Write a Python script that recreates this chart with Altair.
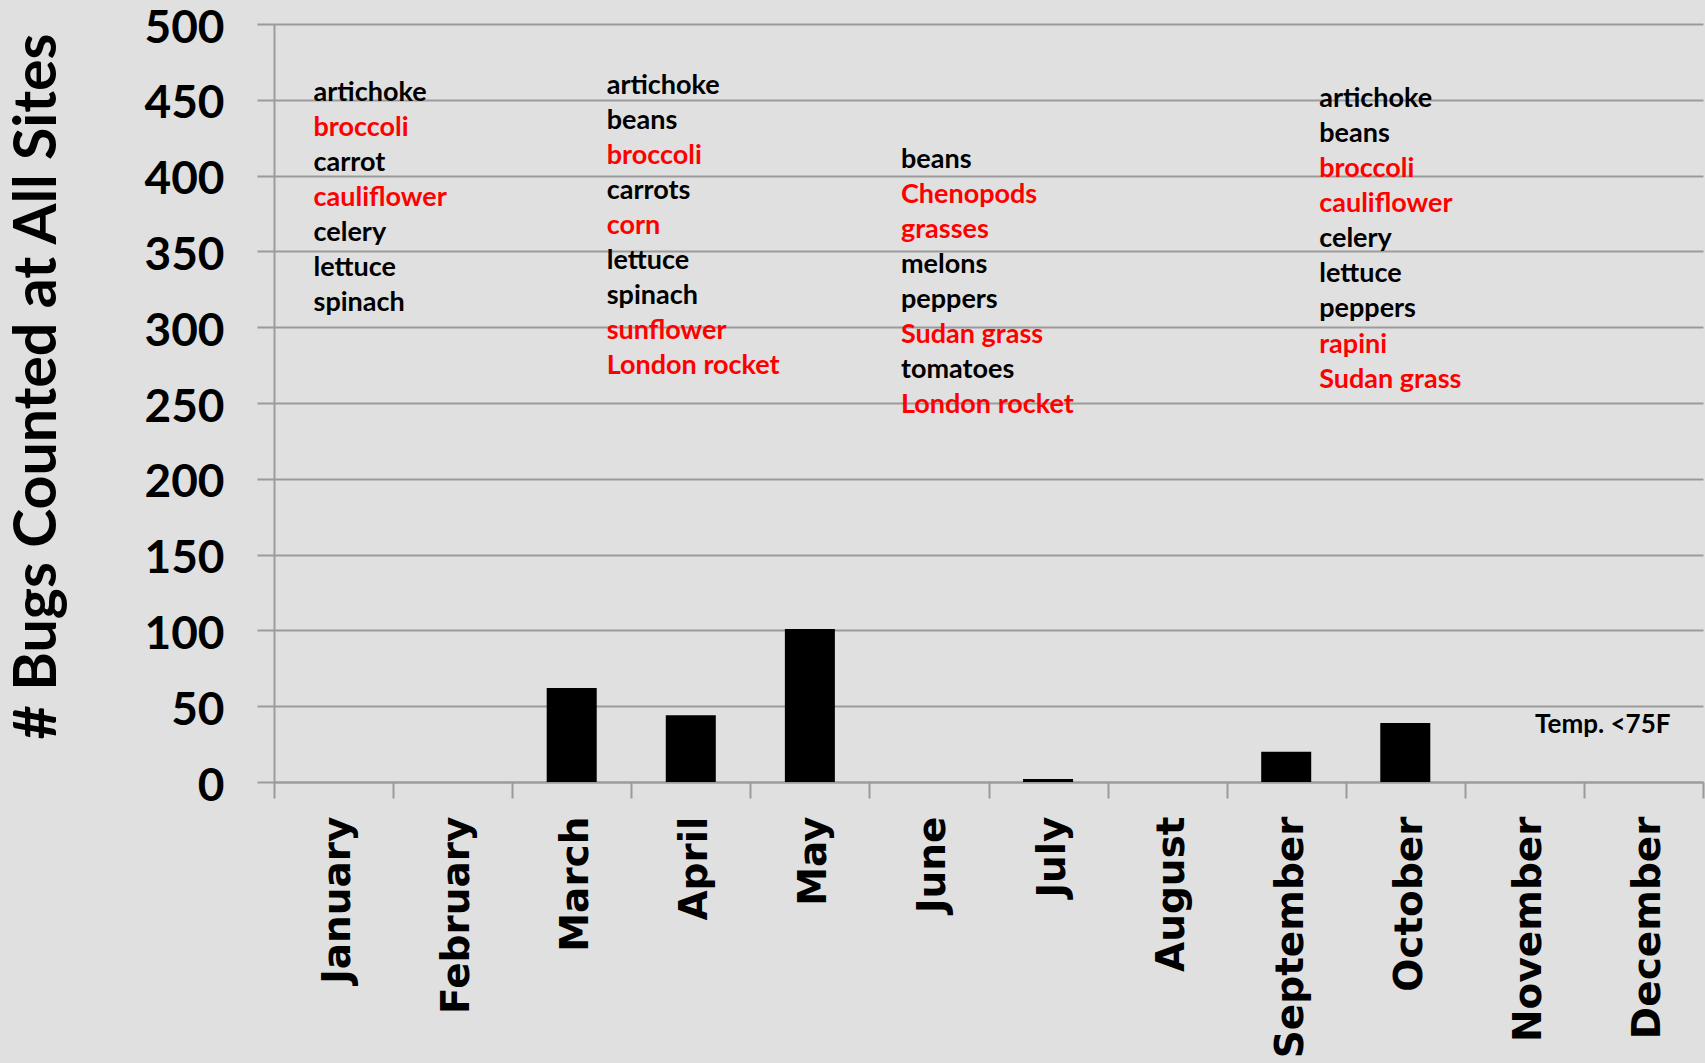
import altair as alt
import pandas as pd

# Monthly bug counts summed over all sites
months = ["January", "February", "March", "April", "May", "June",
          "July", "August", "September", "October", "November", "December"]
bugs = [0, 0, 62, 44, 101, 0, 2, 0, 20, 39, 0, 0]

# Crops / weeds present in each period; host plants shown in red
crops_winter = ["artichoke", "broccoli", "carrot", "cauliflower", "celery", "lettuce", "spinach"]
crops_spring = ["artichoke", "beans", "broccoli", "carrots", "corn", "lettuce", "spinach",
                "sunflower", "London rocket"]
crops_summer = ["beans", "Chenopods", "grasses", "melons", "peppers", "Sudan grass",
                "tomatoes", "London rocket"]
crops_fall = ["artichoke", "beans", "broccoli", "cauliflower", "celery", "lettuce", "peppers",
              "rapini", "Sudan grass"]
host_plants = {"broccoli", "cauliflower", "corn", "sunflower", "London rocket",
               "Chenopods", "grasses", "Sudan grass", "rapini"}
temp_note = "Temp. <75F"

# Layout of the crop lists: (crops, anchor month, x shift in px, first baseline in count units)
LINE_STEP = 23.1
groups = [
    (crops_winter, "January", -20, 449),
    (crops_spring, "March", 35, 453.7),
    (crops_summer, "June", -28, 405),
    (crops_fall, "September", 33, 445),
]

RED = "#ff0000"
GRID = "#9b9b9b"

bars_df = pd.DataFrame({"month": months, "bugs": bugs})

x_scale = alt.Scale(domain=months, paddingInner=0, paddingOuter=0)
y_scale = alt.Scale(domain=[0, 500], nice=False)

base_x = alt.X(
    "month:N", scale=x_scale, sort=months,
    axis=alt.Axis(
        title=None, labelAngle=-90, labelAlign="right", labelBaseline="middle",
        labelFont="DejaVu Sans", labelFontWeight="bold", labelFontSize=39,
        labelColor="black", labelPadding=18, labelOffset=4, labelLimit=600,
        tickBand="extent", tickSize=16, tickColor=GRID, tickWidth=2,
        domainColor=GRID, domainWidth=2, grid=False,
    ),
)

bars = alt.Chart(bars_df).mark_bar(
    color="black", width=alt.RelativeBandSize(0.42)
).encode(
    x=base_x,
    y=alt.Y(
        "bugs:Q", scale=y_scale,
        axis=alt.Axis(
            title="# Bugs Counted at All Sites",
            values=list(range(0, 501, 50)),
            labelFont="Lato", labelFontWeight="bold", labelFontSize=46,
            labelColor="black", labelPadding=33, labelOffset=4,
            tickSize=17, tickColor=GRID, tickWidth=2,
            domainColor=GRID, domainWidth=2,
            gridColor=GRID, gridWidth=2, gridOpacity=1,
            titleFont="Lato", titleFontWeight="bold", titleFontSize=59,
            titleColor="black", titleAngle=-90, titleAlign="center",
            titleBaseline="alphabetic", titleX=-219, titleY=362,
        ),
    ),
)

layers = [bars]
for crops, anchor, shift, top in groups:
    rows = []
    for i, name in enumerate(crops):
        rows.append({
            "month": anchor,
            "crop": name,
            "y": top - i * LINE_STEP,
            "color": RED if name in host_plants else "black",
        })
    layers.append(
        alt.Chart(pd.DataFrame(rows)).mark_text(
            align="left", baseline="alphabetic", dx=shift,
            font="Lato", fontWeight="bold", fontSize=27,
        ).encode(
            x=alt.X("month:N", scale=x_scale, sort=months),
            y=alt.Y("y:Q", scale=y_scale),
            text="crop:N",
            color=alt.Color("color:N", scale=None),
        )
    )

temp_df = pd.DataFrame({"month": ["December"], "y": [32.3], "note": [temp_note]})
layers.append(
    alt.Chart(temp_df).mark_text(
        align="right", baseline="alphabetic", dx=27,
        font="Lato", fontWeight="bold", fontSize=26, color="black",
    ).encode(
        x=alt.X("month:N", scale=x_scale, sort=months),
        y=alt.Y("y:Q", scale=y_scale),
        text="note:N",
    )
)

chart = alt.layer(*layers).properties(
    width=1429, height=758,
    autosize=alt.AutoSizeParams(type="none"),
    padding={"left": 274, "top": 24, "right": 2, "bottom": 281},
    background="#e0e0e0",
).configure_view(stroke=None)

chart.save("out.html", embed_options={"renderer": "svg", "actions": False})
